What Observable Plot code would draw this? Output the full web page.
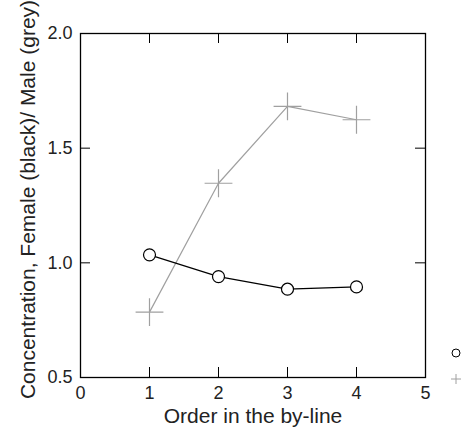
<!DOCTYPE html>
<html>
<head>
<meta charset="utf-8">
<script src="https://cdn.jsdelivr.net/npm/d3@7"></script>
<script src="https://cdn.jsdelivr.net/npm/@observablehq/plot@0.6"></script>
<style>
  html, body { margin: 0; padding: 0; background: #fff; }
  #wrap { position: relative; width: 464px; height: 435px; }
  #legend { position: absolute; left: 448px; top: 344px; }
  #wrap g[aria-label="x-axis tick label"], #wrap g[aria-label="y-axis tick label"] { font-size: 18px; }
</style>
</head>
<body>
<div id="wrap"></div>
<script>
const order = [1, 2, 3, 4];
const female = [1.035, 0.94, 0.885, 0.895];
const male = [0.785, 1.347, 1.682, 1.624];
const xTicks = [0, 1, 2, 3, 4, 5];
const yTicks = [0.5, 1.0, 1.5, 2.0];
const xLabel = "Order in the by-line";
const yLabel = "Concentration, Female (black)/ Male (grey)";

const femaleData = order.map((x, i) => ({x, y: female[i]}));
const maleData = order.map((x, i) => ({x, y: male[i]}));

const W = 464, H = 435;
const mL = 80, mT = 33, mR = 39, mB = 58;
const innerW = W - mL - mR, innerH = H - mT - mB;
const tick = 10;

const chart = Plot.plot({
  width: W,
  height: H,
  marginLeft: mL,
  marginTop: mT,
  marginRight: mR,
  marginBottom: mB,
  style: {fontFamily: "'Liberation Sans', Arial, sans-serif", fontSize: "18px", color: "#222", background: "#fff"},
  x: {domain: [0, 5]},
  y: {domain: [0.5, 2.0]},
  marks: [
    Plot.axisX({ticks: xTicks, tickSize: 0, tickPadding: 9, fontSize: 18, tickFormat: d3.format("d"), label: null}),
    Plot.axisY({ticks: yTicks, tickSize: 0, tickPadding: 8, fontSize: 18, tickFormat: d3.format(".1f"), label: null}),
    Plot.text([xLabel], {text: d => d, frameAnchor: "bottom", textAnchor: "middle", dy: 45, fontSize: 21, fill: "#222"}),
    Plot.text([yLabel], {text: d => d, frameAnchor: "left", textAnchor: "middle", rotate: -90, dx: -52, dy: -6, fontSize: 21, fill: "#222"}),
    Plot.tickX(xTicks, {x: d => d, insetTop: innerH - tick, stroke: "#000"}),
    Plot.tickX(xTicks, {x: d => d, insetBottom: innerH - tick, stroke: "#000"}),
    Plot.tickY(yTicks, {y: d => d, insetRight: innerW - tick, stroke: "#000"}),
    Plot.tickY(yTicks, {y: d => d, insetLeft: innerW - tick, stroke: "#000"}),
    Plot.frame({stroke: "#000", strokeWidth: 1.3}),
    Plot.line(maleData, {x: "x", y: "y", stroke: "#a0a0a0", strokeWidth: 1.2}),
    Plot.dot(maleData, {x: "x", y: "y", symbol: "plus", r: 9, stroke: "#a0a0a0", strokeWidth: 1.2}),
    Plot.line(femaleData, {x: "x", y: "y", stroke: "#000", strokeWidth: 1.2}),
    Plot.dot(femaleData, {x: "x", y: "y", symbol: "circle", r: 6, stroke: "#000", fill: "#fff", strokeWidth: 1.2})
  ]
});
document.getElementById("wrap").appendChild(chart);

// legend symbols (no text in the original)
const leg = d3.select("#wrap").append("svg").attr("id", "legend").attr("width", 16).attr("height", 46);
leg.append("circle").attr("cx", 8).attr("cy", 9).attr("r", 4).attr("fill", "none").attr("stroke", "#000").attr("stroke-width", 1);
leg.append("path").attr("d", "M3,35H13M8,30V40").attr("stroke", "#a0a0a0").attr("stroke-width", 1);
</script>
</body>
</html>
